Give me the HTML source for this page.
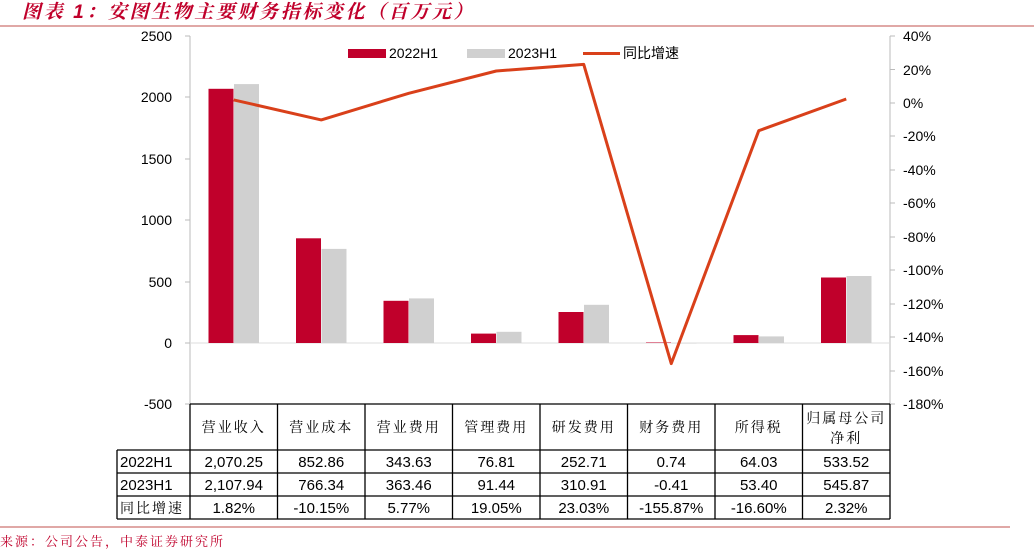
<!DOCTYPE html>
<html><head><meta charset="utf-8"><style>
body{margin:0;background:#fff;}
svg{display:block;font-family:"Liberation Sans","Noto Sans CJK SC",sans-serif;}
</style></head><body>
<svg width="1034" height="550" viewBox="0 0 1034 550" xmlns="http://www.w3.org/2000/svg">
<text x="22" y="18" font-size="19" font-weight="bold" font-style="italic" fill="#C0002B" letter-spacing="2.6" font-family="Liberation Sans,Noto Serif CJK SC,serif">图表 1：安图生物主要财务指标变化（百万元）</text>
<line x1="0" y1="26" x2="1034" y2="26" stroke="#C0504D" stroke-width="1"/>
<line x1="190" y1="36" x2="190" y2="404" stroke="#BBB"/>
<line x1="890" y1="36" x2="890" y2="404" stroke="#BBB"/>
<line x1="190" y1="343" x2="890" y2="343" stroke="#DDD"/>
<g font-size="14" fill="#000" text-anchor="end">
<text x="172" y="41">2500</text><text x="172" y="102">2000</text><text x="172" y="164">1500</text>
<text x="172" y="225">1000</text><text x="172" y="287">500</text><text x="172" y="348">0</text><text x="172" y="409">-500</text>
</g>
<g stroke="#BBB"><line x1="185" y1="36" x2="190" y2="36"/><line x1="185" y1="97" x2="190" y2="97"/><line x1="185" y1="159" x2="190" y2="159"/><line x1="185" y1="220" x2="190" y2="220"/><line x1="185" y1="282" x2="190" y2="282"/><line x1="185" y1="343" x2="190" y2="343"/><line x1="185" y1="404" x2="190" y2="404"/>
<line x1="890" y1="36" x2="895" y2="36"/><line x1="890" y1="69.5" x2="895" y2="69.5"/><line x1="890" y1="103" x2="895" y2="103"/><line x1="890" y1="136" x2="895" y2="136"/><line x1="890" y1="170" x2="895" y2="170"/><line x1="890" y1="203" x2="895" y2="203"/><line x1="890" y1="237" x2="895" y2="237"/><line x1="890" y1="270" x2="895" y2="270"/><line x1="890" y1="304" x2="895" y2="304"/><line x1="890" y1="337" x2="895" y2="337"/><line x1="890" y1="371" x2="895" y2="371"/><line x1="890" y1="404" x2="895" y2="404"/></g>
<g font-size="14" fill="#000">
<text x="903" y="41">40%</text><text x="903" y="75">20%</text><text x="903" y="108">0%</text><text x="903" y="141">-20%</text>
<text x="903" y="175">-40%</text><text x="903" y="208">-60%</text><text x="903" y="242">-80%</text><text x="903" y="275">-100%</text>
<text x="903" y="309">-120%</text><text x="903" y="342">-140%</text><text x="903" y="376">-160%</text><text x="903" y="409">-180%</text>
</g>
<g fill="#C0002B">
<rect x="208.5" y="88.8" width="25" height="254.2"/><rect x="296" y="238.3" width="25" height="104.7"/>
<rect x="383.5" y="300.8" width="25" height="42.2"/><rect x="471" y="333.6" width="25" height="9.4"/>
<rect x="558.5" y="312" width="25" height="31"/><rect x="646" y="342.5" width="25" height="0.5"/>
<rect x="733.5" y="335.1" width="25" height="7.9"/><rect x="821" y="277.5" width="25" height="65.5"/>
</g>
<g fill="#D0D0D0">
<rect x="234" y="84.1" width="25" height="258.9"/><rect x="321.5" y="248.9" width="25" height="94.1"/>
<rect x="409" y="298.4" width="25" height="44.6"/><rect x="496.5" y="331.8" width="25" height="11.2"/>
<rect x="584" y="304.8" width="25" height="38.2"/><rect x="671.5" y="343" width="25" height="0.5"/>
<rect x="759" y="336.4" width="25" height="6.6"/><rect x="846.5" y="276" width="25" height="67"/>
</g>
<polyline fill="none" stroke="#D9401A" stroke-width="3" stroke-linejoin="round" points="233.75,99.9 321.25,119.9 408.75,93.3 496.25,71 583.75,64.4 671.25,363.6 758.75,130.7 846.25,99"/>
<rect x="348" y="49" width="38" height="9" fill="#C0002B"/><text x="389" y="58" font-size="14">2022H1</text>
<rect x="467" y="49" width="38" height="9" fill="#D0D0D0"/><text x="508" y="58" font-size="14">2023H1</text>
<line x1="583" y1="53.5" x2="620" y2="53.5" stroke="#D9401A" stroke-width="3"/><text x="623" y="58" font-size="14">同比增速</text>
<g stroke="#000" stroke-width="1.3" fill="none">
<line x1="190" y1="404" x2="890" y2="404"/>
<line x1="117" y1="450" x2="890" y2="450"/><line x1="117" y1="473" x2="890" y2="473"/>
<line x1="117" y1="496" x2="890" y2="496"/><line x1="117" y1="519" x2="890" y2="519"/>
<line x1="117" y1="450" x2="117" y2="519"/>
<line x1="190" y1="404" x2="190" y2="519"/><line x1="277.5" y1="404" x2="277.5" y2="519"/><line x1="365" y1="404" x2="365" y2="519"/>
<line x1="452.5" y1="404" x2="452.5" y2="519"/><line x1="540" y1="404" x2="540" y2="519"/><line x1="627.5" y1="404" x2="627.5" y2="519"/>
<line x1="715" y1="404" x2="715" y2="519"/><line x1="802.5" y1="404" x2="802.5" y2="519"/><line x1="890" y1="404" x2="890" y2="519"/>
</g>
<g font-size="14" text-anchor="middle" letter-spacing="2" font-family="Liberation Serif,Noto Serif CJK SC,serif">
<text x="233.75" y="432">营业收入</text><text x="321.25" y="432">营业成本</text><text x="408.75" y="432">营业费用</text>
<text x="496.25" y="432">管理费用</text><text x="583.75" y="432">研发费用</text><text x="671.25" y="432">财务费用</text>
<text x="758.75" y="432">所得税</text><text x="846.25" y="423">归属母公司</text><text x="846.25" y="443">净利</text>
</g>
<g font-size="15" text-anchor="middle">
<text x="233.75" y="467">2,070.25</text><text x="321.25" y="467">852.86</text><text x="408.75" y="467">343.63</text><text x="496.25" y="467">76.81</text>
<text x="583.75" y="467">252.71</text><text x="671.25" y="467">0.74</text><text x="758.75" y="467">64.03</text><text x="846.25" y="467">533.52</text>
<text x="233.75" y="490">2,107.94</text><text x="321.25" y="490">766.34</text><text x="408.75" y="490">363.46</text><text x="496.25" y="490">91.44</text>
<text x="583.75" y="490">310.91</text><text x="671.25" y="490">-0.41</text><text x="758.75" y="490">53.40</text><text x="846.25" y="490">545.87</text>
<text x="233.75" y="513">1.82%</text><text x="321.25" y="513">-10.15%</text><text x="408.75" y="513">5.77%</text><text x="496.25" y="513">19.05%</text>
<text x="583.75" y="513">23.03%</text><text x="671.25" y="513">-155.87%</text><text x="758.75" y="513">-16.60%</text><text x="846.25" y="513">2.32%</text>
</g>
<text x="120" y="467" font-size="15">2022H1</text><text x="120" y="490" font-size="15">2023H1</text>
<text x="120" y="513" font-size="14" letter-spacing="2" font-family="Liberation Serif,Noto Serif CJK SC,serif">同比增速</text>
<line x1="0" y1="527" x2="1010" y2="527" stroke="#C0504D"/>
<text x="0" y="546" font-size="13" fill="#C0002B" letter-spacing="2" font-family="Liberation Serif,Noto Serif CJK SC,serif">来源：公司公告，中泰证券研究所</text>
</svg>
</body></html>
